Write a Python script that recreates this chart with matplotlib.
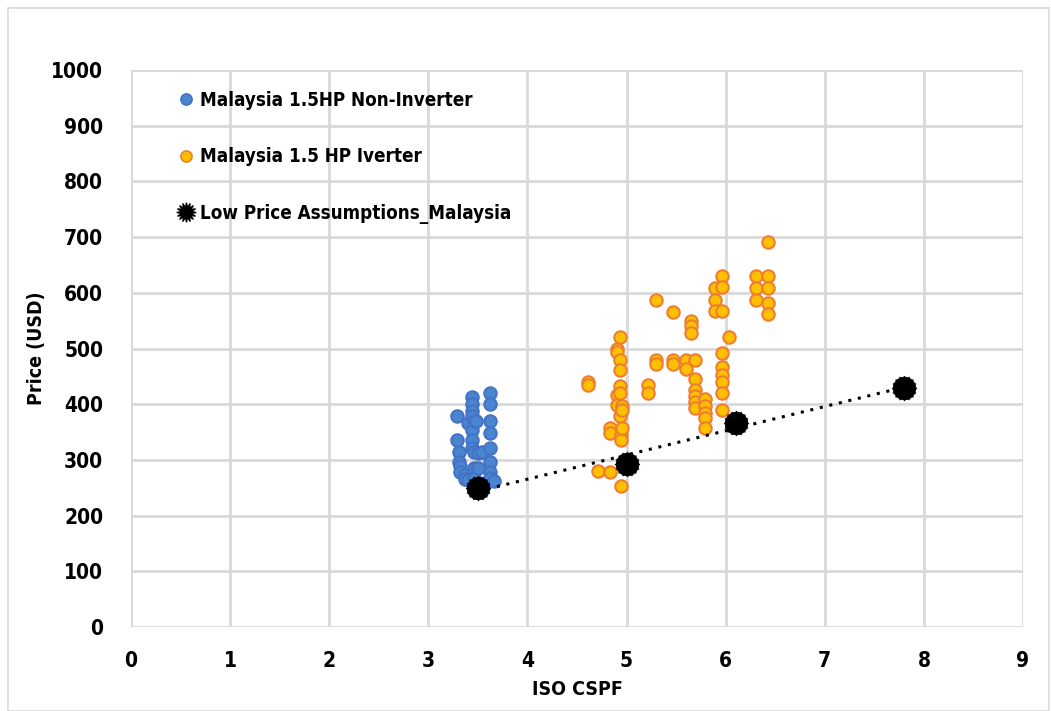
import numpy as np
import matplotlib.pyplot as plt
from matplotlib import font_manager
from matplotlib.lines import Line2D
from matplotlib.patches import Rectangle

# Malaysia 1.5HP non-inverter units (ISO CSPF, price USD)
non_inv_cspf = [3.29, 3.29, 3.31, 3.31, 3.32, 3.32, 3.37, 3.37, 3.40, 3.40,
                3.44, 3.44, 3.44, 3.44, 3.44, 3.44, 3.44,
                3.46, 3.46, 3.46, 3.46, 3.48, 3.50, 3.50, 3.54,
                3.62, 3.62, 3.62, 3.62, 3.62, 3.62, 3.62, 3.62, 3.66]
non_inv_price = [378, 336, 315, 297, 290, 279, 273, 265, 366, 264,
                 413, 400, 387, 378, 354, 336, 321,
                 369, 315, 285, 268, 369, 312, 285, 315,
                 420, 400, 369, 348, 321, 297, 279, 267, 262]

# Malaysia 1.5 HP inverter units
inv_cspf = [4.61, 4.61, 4.71, 4.83, 4.83, 4.83,
            4.90, 4.90, 4.90, 4.90,
            4.93, 4.93, 4.93, 4.93, 4.93, 4.93,
            4.94, 4.94, 4.94, 4.95, 4.95, 4.95,
            5.22, 5.22, 5.30, 5.30, 5.30, 5.47, 5.47, 5.47,
            5.60, 5.60, 5.65, 5.65, 5.65,
            5.69, 5.69, 5.69, 5.69, 5.69, 5.69,
            5.79, 5.79, 5.79, 5.79, 5.79,
            5.89, 5.89, 5.89,
            5.96, 5.96, 5.96, 5.96, 5.96, 5.96, 5.96, 5.96, 5.96,
            6.03, 6.31, 6.31, 6.31,
            6.43, 6.43, 6.43, 6.43, 6.43]
inv_price = [440, 435, 281, 357, 348, 278,
             500, 494, 417, 399,
             521, 480, 461, 433, 420, 378,
             345, 336, 253, 396, 390, 357,
             434, 420, 588, 480, 472, 566, 480, 472,
             480, 464, 550, 540, 527,
             480, 446, 425, 415, 404, 393,
             410, 397, 385, 375, 357,
             608, 588, 568,
             630, 610, 568, 492, 467, 452, 440, 420, 390,
             521, 630, 608, 588,
             692, 630, 608, 582, 562]

# Low price assumptions
low_cspf = [3.5, 5.0, 6.1, 7.8]
low_price = [250, 293, 367, 430]

# pick a narrow bold font if one is installed
def is_bold(f):
    w = f.weight
    if isinstance(w, str):
        return w in ('bold', 'semibold', 'demibold', 'heavy', 'extra bold', 'black')
    return w >= 600

def is_narrow(f):
    return ('Narrow' in f.name or 'Condensed' in f.name
            or 'condensed' in str(f.stretch))

cands = [f for f in font_manager.fontManager.ttflist if is_narrow(f) and is_bold(f)]
cands.sort(key=lambda f: f.fname)
if cands:
    tick_font = font_manager.FontProperties(fname=cands[0].fname)
else:
    tick_font = font_manager.FontProperties(family='DejaVu Sans', weight='bold')

def fp(size):
    p = tick_font.copy()
    p.set_size(size)
    return p

fig = plt.figure(figsize=(10.51, 7.11), dpi=100)
ax = fig.add_axes([0.1246, 0.1181, 0.8488, 0.7834])

fig.patches.append(Rectangle((0.008, 0.0), 0.99, 0.989, transform=fig.transFigure,
                             fill=False, edgecolor='#d9d9d9', linewidth=1.2))

ax.scatter(non_inv_cspf, non_inv_price, s=80, color='#4a86d0', edgecolors='#4472c4',
           linewidths=1.5, zorder=3)
ax.scatter(inv_cspf, inv_price, s=80, color='#ffc000', edgecolors='#ed7d31',
           linewidths=1.5, zorder=3)

# linear trend through the low price points
k, b = np.polyfit(low_cspf, low_price, 1)
xs = np.array([min(low_cspf), max(low_cspf)])
ax.plot(xs, k * xs + b, color='black', linestyle=(0, (1, 2.2)), linewidth=2.2, zorder=4)
ax.scatter(low_cspf, low_price, s=300, marker=(16, 1, 0), color='black', zorder=5)
ax.scatter(low_cspf, low_price, s=250, marker='o', color='black', zorder=5)

ax.set_xlim(0, 9)
ax.set_ylim(0, 1000)
ax.set_xticks(range(0, 10))
ax.set_yticks(range(0, 1001, 100))
ax.grid(True, color='#d9d9d9', linewidth=2)
ax.set_axisbelow(True)
for s in ax.spines.values():
    s.set_visible(False)
ax.tick_params(axis='x', length=0, pad=17)
ax.tick_params(axis='y', length=0, pad=20)
for t in ax.get_xticklabels() + ax.get_yticklabels():
    t.set_fontproperties(fp(15))

ax.set_xlabel('ISO CSPF', fontproperties=fp(14), labelpad=7)
ax.set_ylabel('Price (USD)', fontproperties=fp(14), labelpad=4)

handles = [
    Line2D([], [], marker='o', linestyle='', markersize=8, markerfacecolor='#4a86d0',
           markeredgecolor='#4472c4', markeredgewidth=1.2),
    Line2D([], [], marker='o', linestyle='', markersize=8, markerfacecolor='#ffc000',
           markeredgecolor='#ed7d31', markeredgewidth=1.2),
    Line2D([], [], marker=(16, 1, 0), linestyle='', markersize=14, color='black'),
]
labels = ['Malaysia 1.5HP Non-Inverter', 'Malaysia 1.5 HP Iverter',
          'Low Price Assumptions_Malaysia']
ax.legend(handles, labels, loc='upper left', bbox_to_anchor=(0.032, 0.993), frameon=False,
          prop=fp(13.5), labelspacing=2.0, handletextpad=0.25, handlelength=1.0)

fig.savefig('out.png', dpi=100)
